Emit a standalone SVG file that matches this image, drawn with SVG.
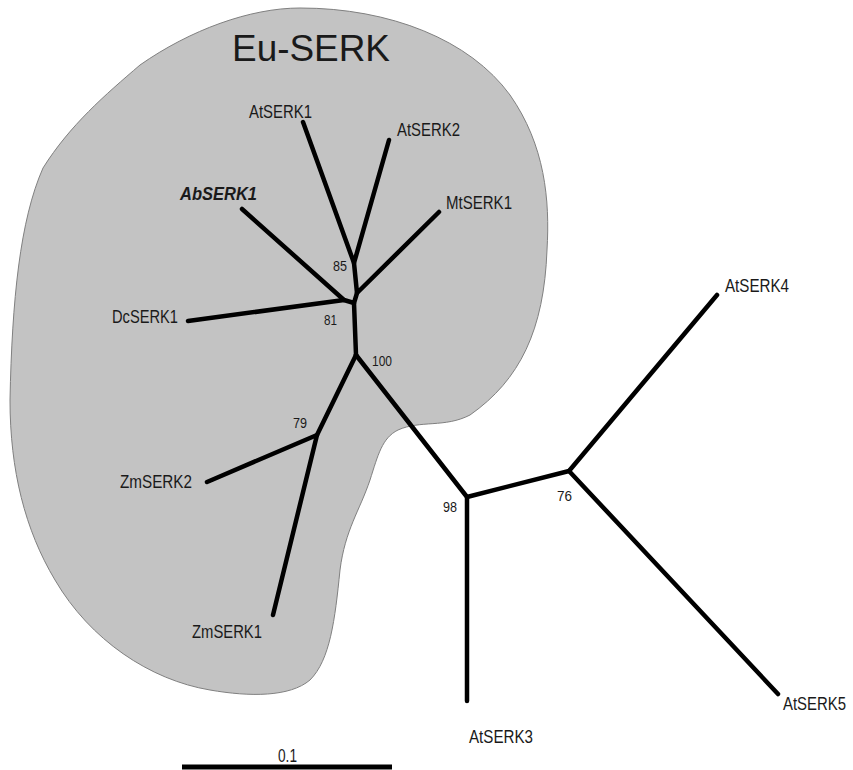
<svg xmlns="http://www.w3.org/2000/svg" width="853" height="770" viewBox="0 0 853 770">
<style>
.lbl{font-family:"Liberation Sans",Arial,sans-serif;font-size:18px;fill:#1a1a1a}
.bs{font-family:"Liberation Sans",Arial,sans-serif;font-size:15px;fill:#1a1a1a}
.br{stroke:#000;stroke-width:4.5;stroke-linecap:round;stroke-linejoin:round;fill:none}
</style>
<rect width="853" height="770" fill="#fff"/>
<g id="eu-serk">
<path d="M300,8 C390,8 470,40 510,95 C545,145 550,200 547,250 C544,330 520,380 470,415 C445,428 420,420 398,430 C382,438 378,455 370,480 C360,510 345,530 340,570 C335,620 330,660 310,680 C290,697 250,697 210,690 C150,680 90,640 55,580 C25,530 10,470 10,400 C12,300 20,220 43,168 C70,125 105,95 140,65 C190,30 250,8 300,8 Z" fill="#c3c3c3" stroke="#808080" stroke-width="1"/>
<text x="232" y="61" font-family="Liberation Sans,Arial,sans-serif" font-size="37" fill="#1a1a1a" textLength="158" lengthAdjust="spacingAndGlyphs">Eu-SERK</text>
</g>
<g id="connectors" class="br">
<path d="M303,122 L354,263 L389,140"/>
<path d="M354,263 L357,293 L439,212"/>
<path d="M357,293 L354,303 L344,300 L242,209"/>
<path d="M344,300 L188,321"/>
<path d="M354,303 L356,355"/>
<path d="M356,355 L317,435 L207,482"/>
<path d="M317,435 L273,615"/>
<path d="M356,355 L467,497 L467,701"/>
<path d="M467,497 L569,471 L717,295"/>
<path d="M569,471 L778,694"/>
</g>
<g id="AtSERK1"><text class="lbl" x="249" y="118" textLength="63" lengthAdjust="spacingAndGlyphs">AtSERK1</text></g>
<g id="AtSERK2"><text class="lbl" x="397" y="136" textLength="63" lengthAdjust="spacingAndGlyphs">AtSERK2</text></g>
<g id="MtSERK1"><text class="lbl" x="446" y="209" textLength="66" lengthAdjust="spacingAndGlyphs">MtSERK1</text></g>
<g id="AbSERK1"><text class="lbl" x="180" y="200" font-weight="bold" font-style="italic" textLength="77" lengthAdjust="spacingAndGlyphs">AbSERK1</text></g>
<g id="DcSERK1"><text class="lbl" x="112" y="323" textLength="66" lengthAdjust="spacingAndGlyphs">DcSERK1</text></g>
<g id="ZmSERK2"><text class="lbl" x="120" y="488" textLength="72" lengthAdjust="spacingAndGlyphs">ZmSERK2</text></g>
<g id="ZmSERK1"><text class="lbl" x="192" y="638" textLength="70" lengthAdjust="spacingAndGlyphs">ZmSERK1</text></g>
<g id="AtSERK3"><text class="lbl" x="469" y="743" textLength="64" lengthAdjust="spacingAndGlyphs">AtSERK3</text></g>
<g id="AtSERK4"><text class="lbl" x="725" y="292" textLength="64" lengthAdjust="spacingAndGlyphs">AtSERK4</text></g>
<g id="AtSERK5"><text class="lbl" transform="translate(783,710) scale(0.83,1)">AtSERK5</text></g>
<g id="n85"><text class="bs" x="333" y="271" textLength="14" lengthAdjust="spacingAndGlyphs">85</text></g>
<g id="n81"><text class="bs" x="324" y="325" textLength="13" lengthAdjust="spacingAndGlyphs">81</text></g>
<g id="n100"><text class="bs" x="372" y="366" textLength="20" lengthAdjust="spacingAndGlyphs">100</text></g>
<g id="n79"><text class="bs" x="293" y="428" textLength="14" lengthAdjust="spacingAndGlyphs">79</text></g>
<g id="n98"><text class="bs" x="443" y="512" textLength="14" lengthAdjust="spacingAndGlyphs">98</text></g>
<g id="n76"><text class="bs" x="557" y="501" textLength="15" lengthAdjust="spacingAndGlyphs">76</text></g>
<g id="scale">
<line x1="182" y1="767" x2="392" y2="767" stroke="#000" stroke-width="5"/>
<text class="lbl" x="278" y="762" textLength="19" lengthAdjust="spacingAndGlyphs">0.1</text>
</g>
</svg>
